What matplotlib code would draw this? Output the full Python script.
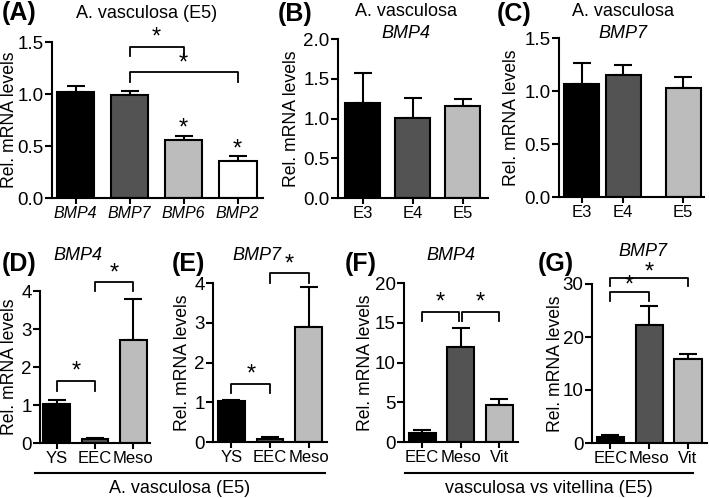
import matplotlib
matplotlib.use("Agg")
import matplotlib.pyplot as plt
from matplotlib.lines import Line2D

plt.rcParams['font.family'] = ['Liberation Sans', 'DejaVu Sans']

W, H = 709, 498

# ---- data ----
a_genes = ['BMP4', 'BMP7', 'BMP6', 'BMP2']
a_mean = [1.02, 0.99, 0.56, 0.36]
a_err = [0.06, 0.04, 0.04, 0.04]

stages = ['E3', 'E4', 'E5']
b_mean = [1.20, 1.01, 1.16]
b_err = [0.37, 0.25, 0.08]
c_mean = [1.07, 1.15, 1.03]
c_err = [0.19, 0.10, 0.10]

tissues_de = ['YS', 'EEC', 'Meso']
d_mean = [1.02, 0.10, 2.70]
d_err = [0.10, 0.04, 1.10]
e_mean = [1.02, 0.08, 2.90]
e_err = [0.04, 0.04, 1.00]

tissues_fg = ['EEC', 'Meso', 'Vit']
f_mean = [1.10, 12.0, 4.60]
f_err = [0.40, 2.40, 0.80]
g_mean = [1.20, 22.2, 15.9]
g_err = [0.40, 3.60, 0.80]

BLACK, DARK, LIGHT, WHITE = '#000000', '#535353', '#bcbcbc', '#ffffff'

fig = plt.figure(figsize=(W / 100, H / 100), dpi=100)


def make_ax(l, r, t, b):
    return fig.add_axes([l / W, 1 - b / H, (r - l) / W, (b - t) / H])


def bar_panel(ax, labels, mean, err, colors, ymax, yticks, xlim, pos=None,
              italic=False, ylab_x=-0.3, xfs=12):
    if pos is None:
        pos = list(range(len(labels)))
    ax.bar(pos, mean, width=0.7, color=colors, edgecolor='black', linewidth=1.5,
           zorder=2)
    ax.errorbar(pos, mean, yerr=[[0] * len(err), err], fmt='none', ecolor='black',
                elinewidth=1.5, capsize=6.5, capthick=1.5, zorder=1)
    ax.set_xlim(*xlim)
    ax.set_ylim(0, ymax)
    ax.set_yticks(yticks)
    ax.set_xticks(pos)
    ax.set_xticklabels(labels, fontsize=xfs, style='italic' if italic else 'normal')
    ax.tick_params(axis='y', labelsize=13.5, width=1.5, length=5, pad=1)
    ax.tick_params(axis='x', width=1.5, length=4, pad=2)
    for s in ['top', 'right']:
        ax.spines[s].set_visible(False)
    for s in ['left', 'bottom']:
        ax.spines[s].set_linewidth(1.5)
    ax.set_ylabel('Rel. mRNA levels', fontsize=12.7)
    ax.yaxis.set_label_coords(ylab_x, 0.5)
    return pos


def bracket(ax, x1, x2, y, leg, star_y=None, sx=None):
    ax.plot([x1, x1, x2, x2], [leg, y, y, leg], color='black', lw=1.3,
            clip_on=False)
    if star_y is not None:
        star(ax, (x1 + x2) / 2 if sx is None else sx, star_y)


def star(ax, x, y):
    ax.text(x, y, '*', ha='center', va='center', fontsize=17, clip_on=False)


def header(x_lab, y_lab, x_title, y_title, letter, title, title2=None, italic=False):
    fig.text(x_lab / W, 1 - y_lab / H, letter, fontsize=18, fontweight='bold',
             ha='left', va='center')
    if title2 is None:
        fig.text(x_title / W, 1 - y_title / H, title, fontsize=13, ha='center',
                 va='center', style='italic' if italic else 'normal')
    else:
        fig.text(x_title / W, 1 - y_title / H, title, fontsize=13, ha='center',
                 va='center')
        fig.text(x_title / W, 1 - (y_title + 21) / H, title2, fontsize=13,
                 ha='center', va='center', style='italic')


# (A)
axA = make_ax(52, 263, 42, 198)
bar_panel(axA, a_genes, a_mean, a_err, [BLACK, DARK, LIGHT, WHITE], 1.5,
          [0, 0.5, 1.0, 1.5], (-0.435, 3.47), italic=True, ylab_x=-0.16, xfs=11.5)
bracket(axA, 1, 2, 1.45, 1.37, 1.54)
bracket(axA, 1, 3, 1.21, 1.12, 1.29, sx=2)
star(axA, 2, 0.67)
star(axA, 3, 0.47)
header(2, 13, 147, 13, '(A)', 'A. vasculosa (E5)')

# (B)
axB = make_ax(338, 488, 39, 198)
bar_panel(axB, stages, b_mean, b_err, [BLACK, DARK, LIGHT], 2.0,
          [0, 0.5, 1.0, 1.5, 2.0], (-0.49, 2.5), ylab_x=-0.25)
header(278, 14, 406, 12, '(B)', 'A. vasculosa', 'BMP4')

# (C)
axC = make_ax(559, 704, 38, 197)
bar_panel(axC, stages, c_mean, c_err, [BLACK, DARK, LIGHT], 1.5,
          [0, 0.5, 1.0, 1.5], (-0.45, 2.45), pos=[0, 0.83, 2.03], ylab_x=-0.27)
header(497, 14, 623, 12, '(C)', 'A. vasculosa', 'BMP7')

# (D)
axD = make_ax(40, 150, 291, 443)
bar_panel(axD, tissues_de, d_mean, d_err, [BLACK, DARK, LIGHT], 4,
          [0, 1, 2, 3, 4], (-0.43, 2.43), ylab_x=-0.2)
bracket(axD, 0, 1, 1.62, 1.37, 1.88)
bracket(axD, 1, 2, 4.24, 4.0, 4.47)
header(2, 264, 78, 255, '(D)', 'BMP4', italic=True)

# (E)
axE = make_ax(213, 327, 283, 442)
bar_panel(axE, tissues_de, e_mean, e_err, [BLACK, DARK, LIGHT], 4,
          [0, 1, 2, 3, 4], (-0.48, 2.48), ylab_x=-0.19)
bracket(axE, 0, 1, 1.45, 1.24, 1.7)
bracket(axE, 1, 2, 4.25, 4.0, 4.47)
header(172, 264, 257, 255, '(E)', 'BMP7', italic=True)

# (F)
axF = make_ax(404, 518, 283, 442)
bar_panel(axF, tissues_fg, f_mean, f_err, [BLACK, DARK, LIGHT], 20,
          [0, 5, 10, 15, 20], (-0.47, 2.49), ylab_x=-0.26)
bracket(axF, 0, 0.96, 16.35, 15.2, 17.5, sx=0.48)
bracket(axF, 1.04, 2, 16.35, 15.2, 17.5, sx=1.52)
header(345, 264, 451, 255, '(F)', 'BMP4', italic=True)

# (G)
axG = make_ax(592, 707, 284, 443)
bar_panel(axG, tissues_fg, g_mean, g_err, [BLACK, DARK, LIGHT], 30,
          [0, 10, 20, 30], (-0.47, 2.49), ylab_x=-0.24)
bracket(axG, 0, 1, 28.5, 26.7, 29.8)
bracket(axG, 0, 2, 31.1, 29.6, 32.2)
header(538, 264, 643, 252, '(G)', 'BMP7', italic=True)

# group labels under the bottom row
fig.add_artist(Line2D([35 / W, 325 / W], [1 - 473 / H] * 2, color='black', lw=1.5))
fig.text(180 / W, 1 - 488 / H, 'A. vasculosa (E5)', fontsize=13, ha='center',
         va='center')
fig.add_artist(Line2D([405 / W, 693 / W], [1 - 473 / H] * 2, color='black', lw=1.5))
fig.text(549 / W, 1 - 488 / H, 'vasculosa vs vitellina (E5)', fontsize=13,
         ha='center', va='center')

fig.savefig('out.png', dpi=100)
